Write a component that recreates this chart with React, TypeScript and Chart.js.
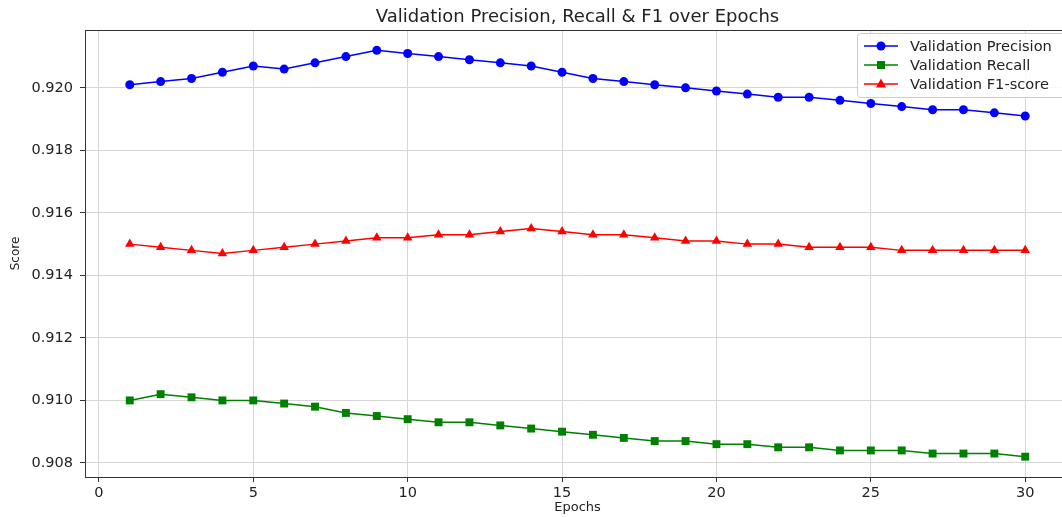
import React, { useEffect, useRef } from "react";
import { Chart, registerables } from "chart.js";

Chart.register(...registerables);

const epochs = [1, 2, 3, 4, 5, 6, 7, 8, 9, 10, 11, 12, 13, 14, 15, 16, 17, 18, 19, 20, 21, 22, 23, 24, 25, 26, 27, 28, 29, 30];

const precision = [0.9201, 0.9202, 0.9203, 0.9205, 0.9207, 0.9206, 0.9208, 0.921, 0.9212, 0.9211, 0.921, 0.9209, 0.9208, 0.9207, 0.9205, 0.9203, 0.9202, 0.9201, 0.92, 0.9199, 0.9198, 0.9197, 0.9197, 0.9196, 0.9195, 0.9194, 0.9193, 0.9193, 0.9192, 0.9191];

const recall = [0.91, 0.9102, 0.9101, 0.91, 0.91, 0.9099, 0.9098, 0.9096, 0.9095, 0.9094, 0.9093, 0.9093, 0.9092, 0.9091, 0.909, 0.9089, 0.9088, 0.9087, 0.9087, 0.9086, 0.9086, 0.9085, 0.9085, 0.9084, 0.9084, 0.9084, 0.9083, 0.9083, 0.9083, 0.9082];

const f1 = [0.915, 0.9149, 0.9148, 0.9147, 0.9148, 0.9149, 0.915, 0.9151, 0.9152, 0.9152, 0.9153, 0.9153, 0.9154, 0.9155, 0.9154, 0.9153, 0.9153, 0.9152, 0.9151, 0.9151, 0.915, 0.915, 0.9149, 0.9149, 0.9149, 0.9148, 0.9148, 0.9148, 0.9148, 0.9148];

const xTicks = [0, 5, 10, 15, 20, 25, 30];
const yTicks = [0.908, 0.91, 0.912, 0.914, 0.916, 0.918, 0.92];

const seriesNames = ["Validation Precision", "Validation Recall", "Validation F1-score"];
const seriesColors = ["#0000ff", "#008000", "#ff0000"];
const seriesMarkers = ["circle", "rect", "triangle"];

const titleText = "Validation Precision, Recall & F1 over Epochs";
const xTitle = "Epochs";
const yTitle = "Score";

const FONT = '"DejaVu Sans", sans-serif';

function drawMarker(ctx: CanvasRenderingContext2D, kind: string, x: number, y: number, color: string) {
  ctx.fillStyle = color;
  ctx.beginPath();
  if (kind === "circle") {
    ctx.arc(x, y, 4.5, 0, Math.PI * 2);
  } else if (kind === "rect") {
    ctx.rect(x - 4, y - 4, 8, 8);
  } else {
    ctx.moveTo(x, y - 5.5);
    ctx.lineTo(x + 5, y + 3.5);
    ctx.lineTo(x - 5, y + 3.5);
    ctx.closePath();
  }
  ctx.fill();
}

const decorPlugin = {
  id: "decor",
  afterDraw(chart: any) {
    const { ctx, chartArea: a } = chart;
    ctx.save();
    // frame
    ctx.strokeStyle = "#333";
    ctx.lineWidth = 1;
    ctx.strokeRect(Math.round(a.left) + 0.5, Math.round(a.top) + 0.5, a.right - a.left, a.bottom - a.top);
    // title
    ctx.fillStyle = "#222";
    ctx.font = `18px ${FONT}`;
    ctx.textAlign = "center";
    ctx.textBaseline = "middle";
    ctx.fillText(titleText, (a.left + a.right) / 2, 17);
    // legend
    const bx = 857, by = 33, bw = 230, bh = 64;
    ctx.fillStyle = "rgba(255,255,255,0.85)";
    ctx.strokeStyle = "#cccccc";
    ctx.beginPath();
    ctx.roundRect(bx + 0.5, by + 0.5, bw, bh, 3);
    ctx.fill();
    ctx.stroke();
    const rows = [46, 65, 84];
    ctx.font = `14.6px ${FONT}`;
    ctx.textAlign = "left";
    seriesNames.forEach((name, i) => {
      const y = rows[i];
      ctx.strokeStyle = seriesColors[i];
      ctx.lineWidth = 1.5;
      ctx.beginPath();
      ctx.moveTo(864, y);
      ctx.lineTo(898, y);
      ctx.stroke();
      drawMarker(ctx, seriesMarkers[i], 881, y, seriesColors[i]);
      ctx.fillStyle = "#222";
      ctx.fillText(name, 910, y + 1);
    });
    ctx.restore();
  },
};

export default function App() {
  const ref = useRef<HTMLCanvasElement>(null);
  useEffect(() => {
    if (!ref.current) return;
    const mk = (label: string, data: number[], i: number) => ({
      label,
      data: epochs.map((e, k) => ({ x: e, y: data[k] })),
      borderColor: seriesColors[i],
      backgroundColor: seriesColors[i],
      borderWidth: 1.5,
      pointStyle: seriesMarkers[i] as any,
      pointRadius: i === 1 ? 5.6 : i === 2 ? 5.5 : 4.5,
      pointBorderWidth: 0,
      tension: 0,
    });
    const chart = new Chart(ref.current, {
      type: "line",
      data: {
        datasets: [mk(seriesNames[0], precision, 0), mk(seriesNames[1], recall, 1), mk(seriesNames[2], f1, 2)],
      },
      plugins: [decorPlugin],
      options: {
        animation: false,
        responsive: false,
        devicePixelRatio: 1,
        layout: { padding: { top: 30, right: 10, left: 0, bottom: 0 } },
        plugins: { legend: { display: false }, title: { display: false }, tooltip: { enabled: false } },
        scales: {
          x: {
            type: "linear",
            min: -0.45,
            max: 31.45,
            afterFit: (s: any) => { s.height = 40; },
            afterBuildTicks: (s: any) => { s.ticks = xTicks.map((v) => ({ value: v })); },
            ticks: { color: "#222", font: { family: FONT, size: 14.5 }, padding: 3, autoSkip: false, maxRotation: 0, callback: (v: any) => String(v) },
            grid: { color: "#d6d6d6", lineWidth: 1, drawTicks: true, tickLength: 5, tickColor: "#333" },
            border: { display: false },
            title: { display: true, text: xTitle, color: "#222", font: { family: FONT, size: 13 }, padding: { top: 0, bottom: 2 } },
          },
          y: {
            type: "linear",
            min: 0.90755,
            max: 0.92185,
            afterFit: (s: any) => { s.width = 85; },
            afterBuildTicks: (s: any) => { s.ticks = yTicks.map((v) => ({ value: v })); },
            ticks: { color: "#222", font: { family: FONT, size: 14.5 }, padding: 7, autoSkip: false, callback: (v: any) => Number(v).toFixed(3) },
            grid: { color: "#d6d6d6", lineWidth: 1, drawTicks: true, tickLength: 5, tickColor: "#333" },
            border: { display: false },
            title: { display: true, text: yTitle, color: "#222", font: { family: FONT, size: 12 }, padding: { top: 9, bottom: 0 } },
          },
        },
      },
    });
    return () => chart.destroy();
  }, []);
  return (
    <div style={{ position: "fixed", left: 0, top: 0, width: 1062, height: 517, overflow: "hidden", background: "#fff" }}>
      <canvas ref={ref} width={1080} height={517} style={{ display: "block" }} />
    </div>
  );
}
